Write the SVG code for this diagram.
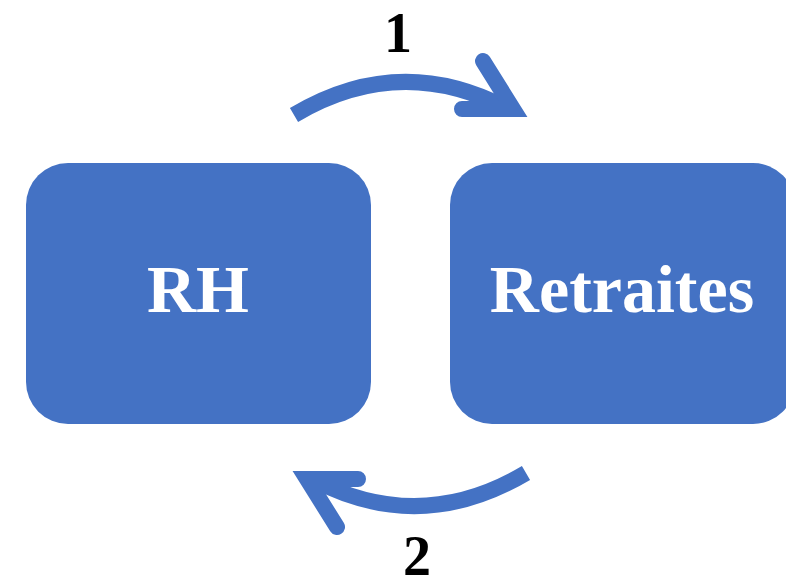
<svg xmlns="http://www.w3.org/2000/svg" width="786" height="581" viewBox="0 0 786 581">
<style>
.box{fill:#4472C4}
.lbl{font-family:"Liberation Serif",serif;font-weight:bold;font-size:68px;fill:#fff;text-anchor:middle}
.num{font-family:"Liberation Serif",serif;font-weight:bold;font-size:56px;fill:#000;text-anchor:middle}
.arc{fill:none;stroke:#4472C4;stroke-width:16}
.head{fill:none;stroke:#4472C4;stroke-width:16;stroke-linecap:round;stroke-linejoin:miter;stroke-miterlimit:10}
</style>
<rect width="786" height="581" fill="#fff"/>
<g id="rh">
<rect class="box" x="26" y="163" width="345" height="261" rx="42"/>
<text class="lbl" x="198" y="312">RH</text>
</g>
<g id="retraites">
<rect class="box" x="450" y="163" width="345" height="261" rx="42"/>
<text class="lbl" x="622" y="312">Retraites</text>
</g>
<g id="connectors">
<g id="arrow1">
<path class="arc" d="M294,115 Q400,52 508,109"/>
<polyline class="head" points="483,61 513,109 462,109"/>
</g>
<g id="arrow2" transform="rotate(180 410 294)">
<path class="arc" d="M294,115 Q400,52 508,109"/>
<polyline class="head" points="483,61 513,109 462,109"/>
</g>
<text class="num" x="398" y="52">1</text>
<text class="num" x="417" y="575">2</text>
</g>
</svg>
